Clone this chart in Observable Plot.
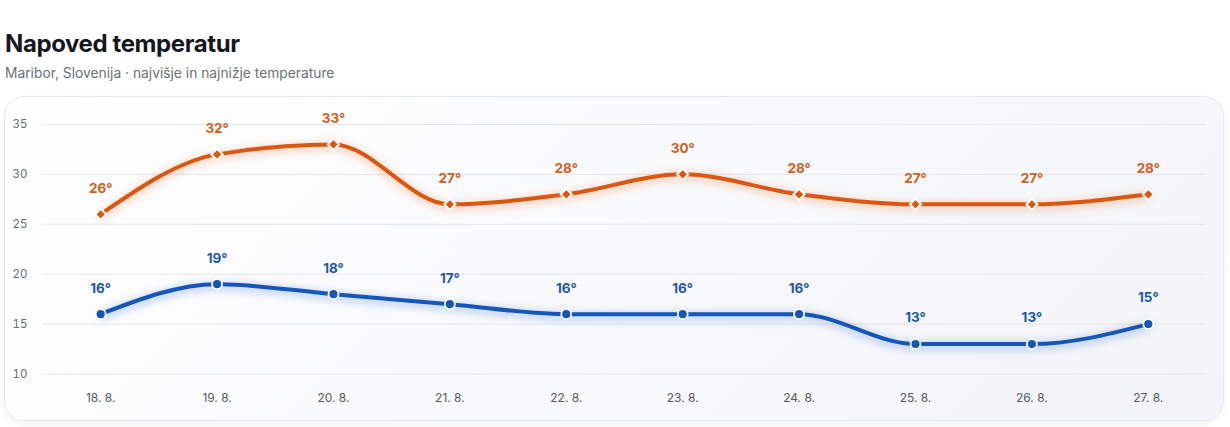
<!DOCTYPE html>
<html>
<head>
<meta charset="utf-8">
<script src="https://cdn.jsdelivr.net/npm/d3@7"></script>
<script src="https://cdn.jsdelivr.net/npm/@observablehq/plot@0.6"></script>
<style>
  html, body { margin: 0; padding: 0; background: #ffffff; }
  body { width: 1230px; height: 427px; overflow: hidden; font-family: Inter, "Noto Sans", sans-serif; position: relative; }
  #title { position: absolute; left: 5px; top: 29px; font-size: 24px; font-weight: 700; color: #15171c; letter-spacing: -0.4px; }
  #subtitle { position: absolute; left: 5px; top: 65px; font-size: 13.8px; color: #6b6f76; }
  #card { position: absolute; left: 4px; top: 96px; width: 1220px; height: 325px; border-radius: 20px;
          border: 1px solid #e6e9ee; box-sizing: border-box;
          background: linear-gradient(135deg, #ffffff 0%, #f8f9fb 50%, #f2f4f7 100%);
          box-shadow: 0 3px 6px rgba(0,0,0,0.06); overflow: hidden; }
  #card svg { position: absolute; left: -1px; top: -1px; }
  .glow-hi path { filter: drop-shadow(0 2px 5px rgba(235,100,20,0.5)); }
  .glow-lo path { filter: drop-shadow(0 2px 5px rgba(25,90,210,0.5)); }
</style>
</head>
<body>
<div id="title">Napoved temperatur</div>
<div id="subtitle">Maribor, Slovenija · najvišje in najnižje temperature</div>
<div id="card"></div>
<script>
const days = ["18. 8.", "19. 8.", "20. 8.", "21. 8.", "22. 8.", "23. 8.", "24. 8.", "25. 8.", "26. 8.", "27. 8."];
const highs = [26, 32, 33, 27, 28, 30, 28, 27, 27, 28];
const lows = [16, 19, 18, 17, 16, 16, 16, 13, 13, 15];
const yTicks = [10, 15, 20, 25, 30, 35];

const hiColor = "#dc560f";
const hiLabel = "#cf5f22";
const loColor = "#1556bb";
const loLabel = "#1f58a6";

const hiData = days.map((d, i) => ({day: d, t: highs[i]}));
const loData = days.map((d, i) => ({day: d, t: lows[i]}));

const chart = Plot.plot({
  width: 1220,
  height: 325,
  marginLeft: 38,
  marginRight: 16,
  marginTop: 28,
  marginBottom: 47,
  style: {fontFamily: "Inter, 'Noto Sans', sans-serif", background: "transparent", overflow: "visible"},
  x: {type: "point", domain: days, padding: 0.5, round: false, label: null},
  y: {domain: [10, 35], label: null},
  marks: [
    Plot.ruleY(yTicks, {stroke: "#e4e6ea", strokeWidth: 1}),
    Plot.axisY({ticks: yTicks, tickSize: 0, tickPadding: 15, fontSize: 11.5, fill: "#6a6d72", label: null}),
    Plot.axisX({tickSize: 0, tickPadding: 19, fontSize: 12, fill: "#55585e", label: null}),
    Plot.line(hiData, {x: "day", y: "t", stroke: hiColor, strokeWidth: 4, curve: "monotone-x", className: "glow-hi"}),
    Plot.line(loData, {x: "day", y: "t", stroke: loColor, strokeWidth: 4, curve: "monotone-x", className: "glow-lo"}),
    Plot.dot(hiData, {x: "day", y: "t", symbol: "diamond2", r: 5, fill: hiColor, stroke: "white", strokeWidth: 2}),
    Plot.dot(loData, {x: "day", y: "t", symbol: "circle", r: 5, fill: loColor, stroke: "white", strokeWidth: 1.8}),
    Plot.text(hiData, {x: "day", y: "t", text: d => d.t + "°", dy: -26, fill: hiLabel, fontSize: 13.5, fontWeight: 700}),
    Plot.text(loData, {x: "day", y: "t", text: d => d.t + "°", dy: -26, fill: loLabel, fontSize: 13.5, fontWeight: 700})
  ]
});
document.getElementById("card").appendChild(chart);
</script>
</body>
</html>
